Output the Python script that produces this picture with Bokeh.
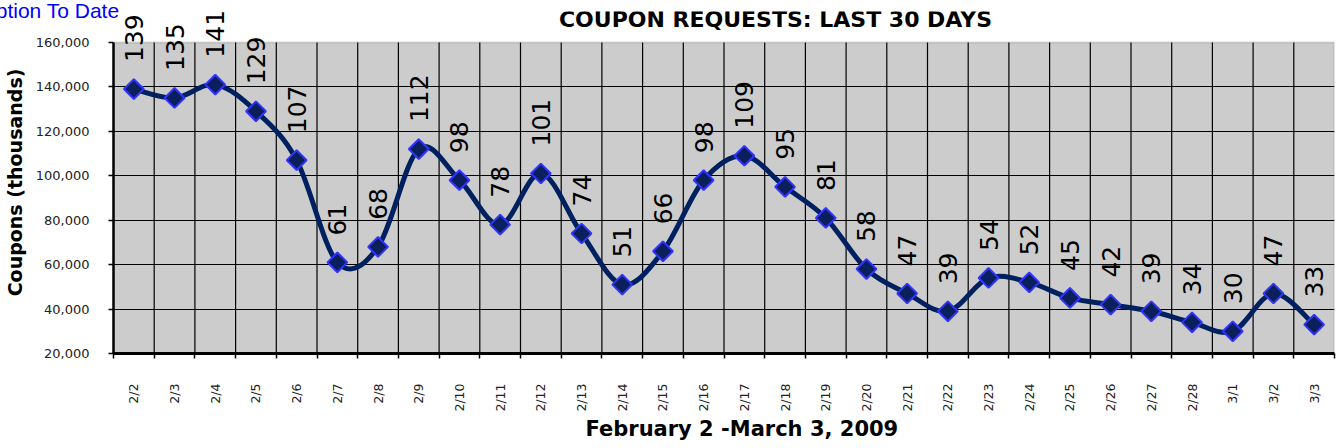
import numpy as np
from bokeh.plotting import figure
from bokeh.models import (ColumnDataSource, FixedTicker, NumeralTickFormatter, LabelSet, Label,
                          BoxAnnotation, Title)
from bokeh.core.properties import value
from bokeh.embed import file_html
from bokeh.resources import INLINE

dates = ["2/2", "2/3", "2/4", "2/5", "2/6", "2/7", "2/8", "2/9", "2/10", "2/11",
         "2/12", "2/13", "2/14", "2/15", "2/16", "2/17", "2/18", "2/19", "2/20", "2/21",
         "2/22", "2/23", "2/24", "2/25", "2/26", "2/27", "2/28", "3/1", "3/2", "3/3"]
coupons_k = [139, 135, 141, 129, 107, 61, 68, 112, 98, 78,
             101, 74, 51, 66, 98, 109, 95, 81, 58, 47,
             39, 54, 52, 45, 42, 39, 34, 30, 47, 33]
y_ticks = [20000, 40000, 60000, 80000, 100000, 120000, 140000, 160000]
title_text = "COUPON REQUESTS: LAST 30 DAYS"
x_title_text = "February 2 -March 3, 2009"
y_title_text = "Coupons (thousands)"
corner_text = "Inception To Date"

n = len(dates)
Y0, Y1 = y_ticks[0], y_ticks[-1]
W, H = 1336, 440
FL, FR, PT, FB = 113, 1334, 42, 354   # plot-area edges in canvas pixels
FT = 11                               # frame top (frame extends above plot area for labels)


def dx(px):
    return -0.5 + (px - FL) * n / (FR - FL)


def dy(py):
    return Y1 - (py - PT) * (Y1 - Y0) / (FB - PT)


xs = np.arange(n, dtype=float)
ys = np.array(coupons_k, dtype=float) * 1000
src = ColumnDataSource(dict(x=xs, y=ys, lab=[str(v) for v in coupons_k]))

# smooth (Catmull-Rom style) bezier segments through the data points
x0, y0, x1, y1, cx0, cy0, cx1, cy1 = [], [], [], [], [], [], [], []
for i in range(n - 1):
    a, b, c, d = max(i - 1, 0), i, i + 1, min(i + 2, n - 1)
    x0.append(xs[b]); y0.append(ys[b]); x1.append(xs[c]); y1.append(ys[c])
    cx0.append(xs[b] + (xs[c] - xs[a]) / 6); cy0.append(ys[b] + (ys[c] - ys[a]) / 6)
    cx1.append(xs[c] - (xs[d] - xs[b]) / 6); cy1.append(ys[c] - (ys[d] - ys[b]) / 6)
bz = ColumnDataSource(dict(x0=x0, y0=y0, x1=x1, y1=y1, cx0=cx0, cy0=cy0, cx1=cx1, cy1=cy1))

p = figure(width=W, height=H, output_backend="svg", toolbar_location=None,
           x_range=(-0.5, n - 0.5), y_range=(Y0, dy(FT)),
           min_border_left=FL, min_border_right=W - FR, min_border_top=FT, min_border_bottom=H - FB)
p.background_fill_color = "white"
p.border_fill_color = "white"
p.outline_line_color = None

# gray plot area (20,000 .. 160,000)
p.add_layout(BoxAnnotation(bottom=Y0, top=Y1, fill_color="#CCCCCC", fill_alpha=1.0,
                           line_color="#808080", line_width=2, level="image"))

# x axis
p.xaxis.ticker = FixedTicker(ticks=list(range(n)), minor_ticks=[i - 0.5 for i in range(n + 1)])
p.xaxis.major_label_overrides = {i: d for i, d in enumerate(dates)}
p.xaxis.major_label_orientation = np.pi / 2
p.xaxis.major_tick_line_color = None
p.xaxis.major_tick_in = 0
p.xaxis.major_tick_out = 0
p.xaxis.minor_tick_in = 0
p.xaxis.minor_tick_out = 5
p.xaxis.minor_tick_line_color = "black"
p.xaxis.minor_tick_line_width = 1.5
p.xaxis.major_label_standoff = 25
p.xaxis.major_label_text_font = "DejaVu Sans"
p.xaxis.major_label_text_font_size = "12.5px"
p.xaxis.major_label_text_color = "#222222"
p.xaxis.axis_line_color = "black"
p.xaxis.axis_line_width = 3

# y axis
p.yaxis.ticker = FixedTicker(ticks=y_ticks)
p.yaxis.bounds = (Y0, Y1)
p.yaxis.formatter = NumeralTickFormatter(format="0,0")
p.yaxis.major_tick_in = 0
p.yaxis.major_tick_out = 5
p.yaxis.major_tick_line_color = "black"
p.yaxis.major_tick_line_width = 1.5
p.yaxis.minor_tick_line_color = None
p.yaxis.major_label_standoff = 19
p.yaxis.major_label_text_font = "DejaVu Sans"
p.yaxis.major_label_text_font_size = "13px"
p.yaxis.major_label_text_color = "#222222"
p.yaxis.axis_line_color = "black"
p.yaxis.axis_line_width = 2.5
p.yaxis.axis_label = y_title_text
p.yaxis.axis_label_text_font = "DejaVu Sans"
p.yaxis.axis_label_text_font_style = "bold"
p.yaxis.axis_label_text_font_size = "19px"
p.yaxis.axis_label_standoff = 7
p.yaxis.axis_label_text_color = "black"

# grids: horizontal from the y ticks, vertical category separators limited to the plot area
p.xgrid.visible = False
p.ygrid.ticker = FixedTicker(ticks=y_ticks[1:-1])
p.ygrid.grid_line_color = "black"
p.ygrid.grid_line_width = 1.2
sep = [i - 0.5 for i in range(1, n)]
p.segment(x0=sep, y0=[Y0] * len(sep), x1=sep, y1=[Y1] * len(sep),
          line_color="black", line_width=1.2)

p.bezier(x0="x0", y0="y0", x1="x1", y1="y1", cx0="cx0", cy0="cy0", cx1="cx1", cy1="cy1",
         source=bz, line_color="#002060", line_width=5)
p.scatter("x", "y", source=src, marker="square", angle=np.pi / 4, size=14,
          fill_color="#0A1F5C", line_color="#3333FF", line_width=2)

labels = LabelSet(x="x", y="y", text="lab", source=src, angle=np.pi / 2,
                  text_align="left", text_baseline="middle", y_offset=27,
                  text_font=value("DejaVu Sans"), text_font_size=value("25px"),
                  text_color="black")
p.add_layout(labels)

p.add_layout(Label(x=dx(775), y=dy(19), text=title_text, text_align="center",
                   text_baseline="alphabetic", text_font="DejaVu Sans",
                   text_font_style="bold", text_font_size="22px", text_color="black"))

# corner caption (partly cut by the left edge, as in the original)
p.title.text = corner_text
p.title.align = "right"
p.title.offset = FR - 119
p.title.standoff = -21
p.title.vertical_align = "bottom"
p.title.text_font = "Liberation Sans Narrow, Liberation Sans, sans-serif"
p.title.text_font_size = "21px"
p.title.text_font_style = "normal"
p.title.text_color = "#0000FF"

# x axis title
p.add_layout(Title(text=x_title_text, align="left", offset=585 - FL, standoff=0,
                   vertical_align="bottom", text_font="DejaVu Sans", text_font_style="bold",
                   text_font_size="21px", text_color="black"), "below")

open("out.html", "w").write(file_html(p, INLINE))
